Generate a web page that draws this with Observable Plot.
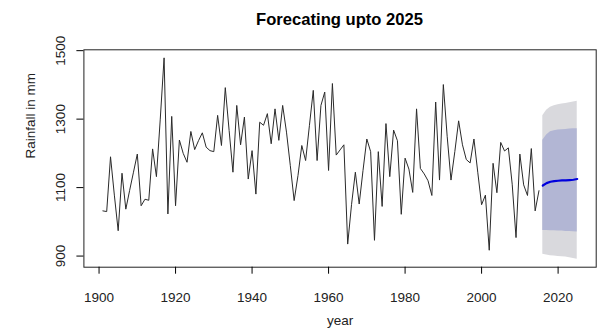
<!DOCTYPE html>
<html>
<head>
<meta charset="utf-8">
<script src="https://cdn.jsdelivr.net/npm/d3@7"></script>
<script src="https://cdn.jsdelivr.net/npm/@observablehq/plot@0.6"></script>
<style>
  body { margin: 0; background: #fff; }
  #wrap { width: 600px; height: 334px; position: relative; font-family: "Liberation Sans", Arial, sans-serif; background: #fff; }
  #title { height: 34px; box-sizing: border-box; padding: 9.7px 4.3px 0 83.4px; width: 600px; text-align: center; font-weight: bold; font-size: 16.6px; line-height: 20px; color: #000; }
  #chart svg { display: block; }
</style>
</head>
<body>
<div id="wrap">
  <div id="title">Forecating upto 2025</div>
  <div id="chart"></div>
</div>
<script>
// Observed annual rainfall (mm), 1901–2015
const startYear = 1901;
const rainfall = [
  1032, 1030, 1190, 1078, 974, 1142, 1037, 1092, 1145, 1198,
  1047, 1066, 1063, 1213, 1132, 1300, 1479, 1023, 1308, 1047,
  1239, 1200, 1174, 1264, 1211, 1237, 1260, 1218, 1208, 1205,
  1311, 1223, 1392, 1267, 1145, 1340, 1225, 1306, 1125, 1208,
  1081, 1291, 1282, 1316, 1228, 1330, 1238, 1340, 1262, 1164,
  1062, 1135, 1223, 1179, 1282, 1384, 1179, 1340, 1379, 1150,
  1404, 1195, 1210, 1225, 935, 1050, 1145, 1052, 1150, 1242,
  1205, 946, 1205, 1045, 1287, 1132, 1268, 1237, 1022, 1186,
  1154, 1086, 1330, 1156, 1140, 1120, 1077, 1350, 1122, 1401,
  1250, 1122, 1205, 1295, 1225, 1182, 1172, 1242, 1145, 1050,
  1078, 917, 1171, 1085, 1232, 1207, 1216, 1110, 954, 1198,
  1108, 1077, 1214, 1032, 1091
];

// Forecast 2016–2025
const fcYears = [2016, 2017, 2018, 2019, 2020, 2021, 2022, 2023, 2024, 2025];
const fcMean  = [1106, 1113, 1117, 1119, 1120, 1121, 1121, 1122, 1123, 1125];
const fcLo80  = [975, 975, 974, 974, 973, 973, 972, 972, 971, 970];
const fcHi80  = [1238, 1254, 1263, 1266, 1268, 1269, 1270, 1271, 1272, 1272];
const fcLo95  = [905, 903, 901, 900, 899, 898, 897, 895, 893, 891];
const fcHi95  = [1310, 1326, 1335, 1339, 1342, 1344, 1346, 1348, 1350, 1352];

const xTicks = [1900, 1920, 1940, 1960, 1980, 2000, 2020];
const yTicks = [900, 1100, 1300, 1500];

const observed = rainfall.map((v, i) => ({year: startYear + i, value: v}));
const forecast = fcYears.map((y, i) => ({
  year: y, mean: fcMean[i], lo80: fcLo80[i], hi80: fcHi80[i], lo95: fcLo95[i], hi95: fcHi95[i]
}));

// R-style 4% range extension
const [ylo, yhi] = d3.extent([...rainfall, ...fcLo95, ...fcHi95]);
const ypad = 0.04 * (yhi - ylo);
const xlo = startYear, xhi = fcYears[fcYears.length - 1];
const xpad = 0.04 * (xhi - xlo);

const font = "'Liberation Sans', Arial, sans-serif";

const chart = Plot.plot({
  width: 600,
  height: 300,
  marginTop: 15.3,
  marginBottom: 67.3,
  marginLeft: 83.4,
  marginRight: 4.3,
  style: {fontFamily: font, fontSize: "13.5px", color: "#000", background: "#fff", overflow: "visible"},
  x: {domain: [xlo - xpad, xhi + xpad]},
  y: {domain: [ylo - ypad, yhi + ypad]},
  marks: [
    Plot.areaY(forecast, {x: "year", y1: "lo95", y2: "hi95", fill: "#d9d9dd"}),
    Plot.areaY(forecast, {x: "year", y1: "lo80", y2: "hi80", fill: "#b2b6d4"}),
    Plot.lineY(observed, {x: "year", y: "value", stroke: "#2a2a2a", strokeWidth: 1}),
    Plot.lineY(forecast, {x: "year", y: "mean", stroke: "#0000dd", strokeWidth: 2.2}),
    Plot.frame({stroke: "#222"}),
    Plot.axisX({ticks: xTicks, tickSize: 7, tickPadding: 18.5, tickFormat: d => String(d), label: null, fontSize: 13.5, fill: "#222"}),
    Plot.axisY({ticks: yTicks, tickSize: 7, tickPadding: 12.4, tickRotate: -90, tickFormat: d => String(d), label: null, fontSize: 13.5, fill: "#222"}),
    Plot.text(["year"], {text: d => d, frameAnchor: "bottom", dy: 53, lineAnchor: "middle", fontSize: 13.5, fill: "#222"}),
    Plot.text(["Rainfall in mm"], {text: d => d, frameAnchor: "left", dx: -53.4, rotate: -90, lineAnchor: "middle", fontSize: 13.5, fill: "#222"})
  ]
});
document.getElementById("chart").appendChild(chart);
</script>
</body>
</html>
